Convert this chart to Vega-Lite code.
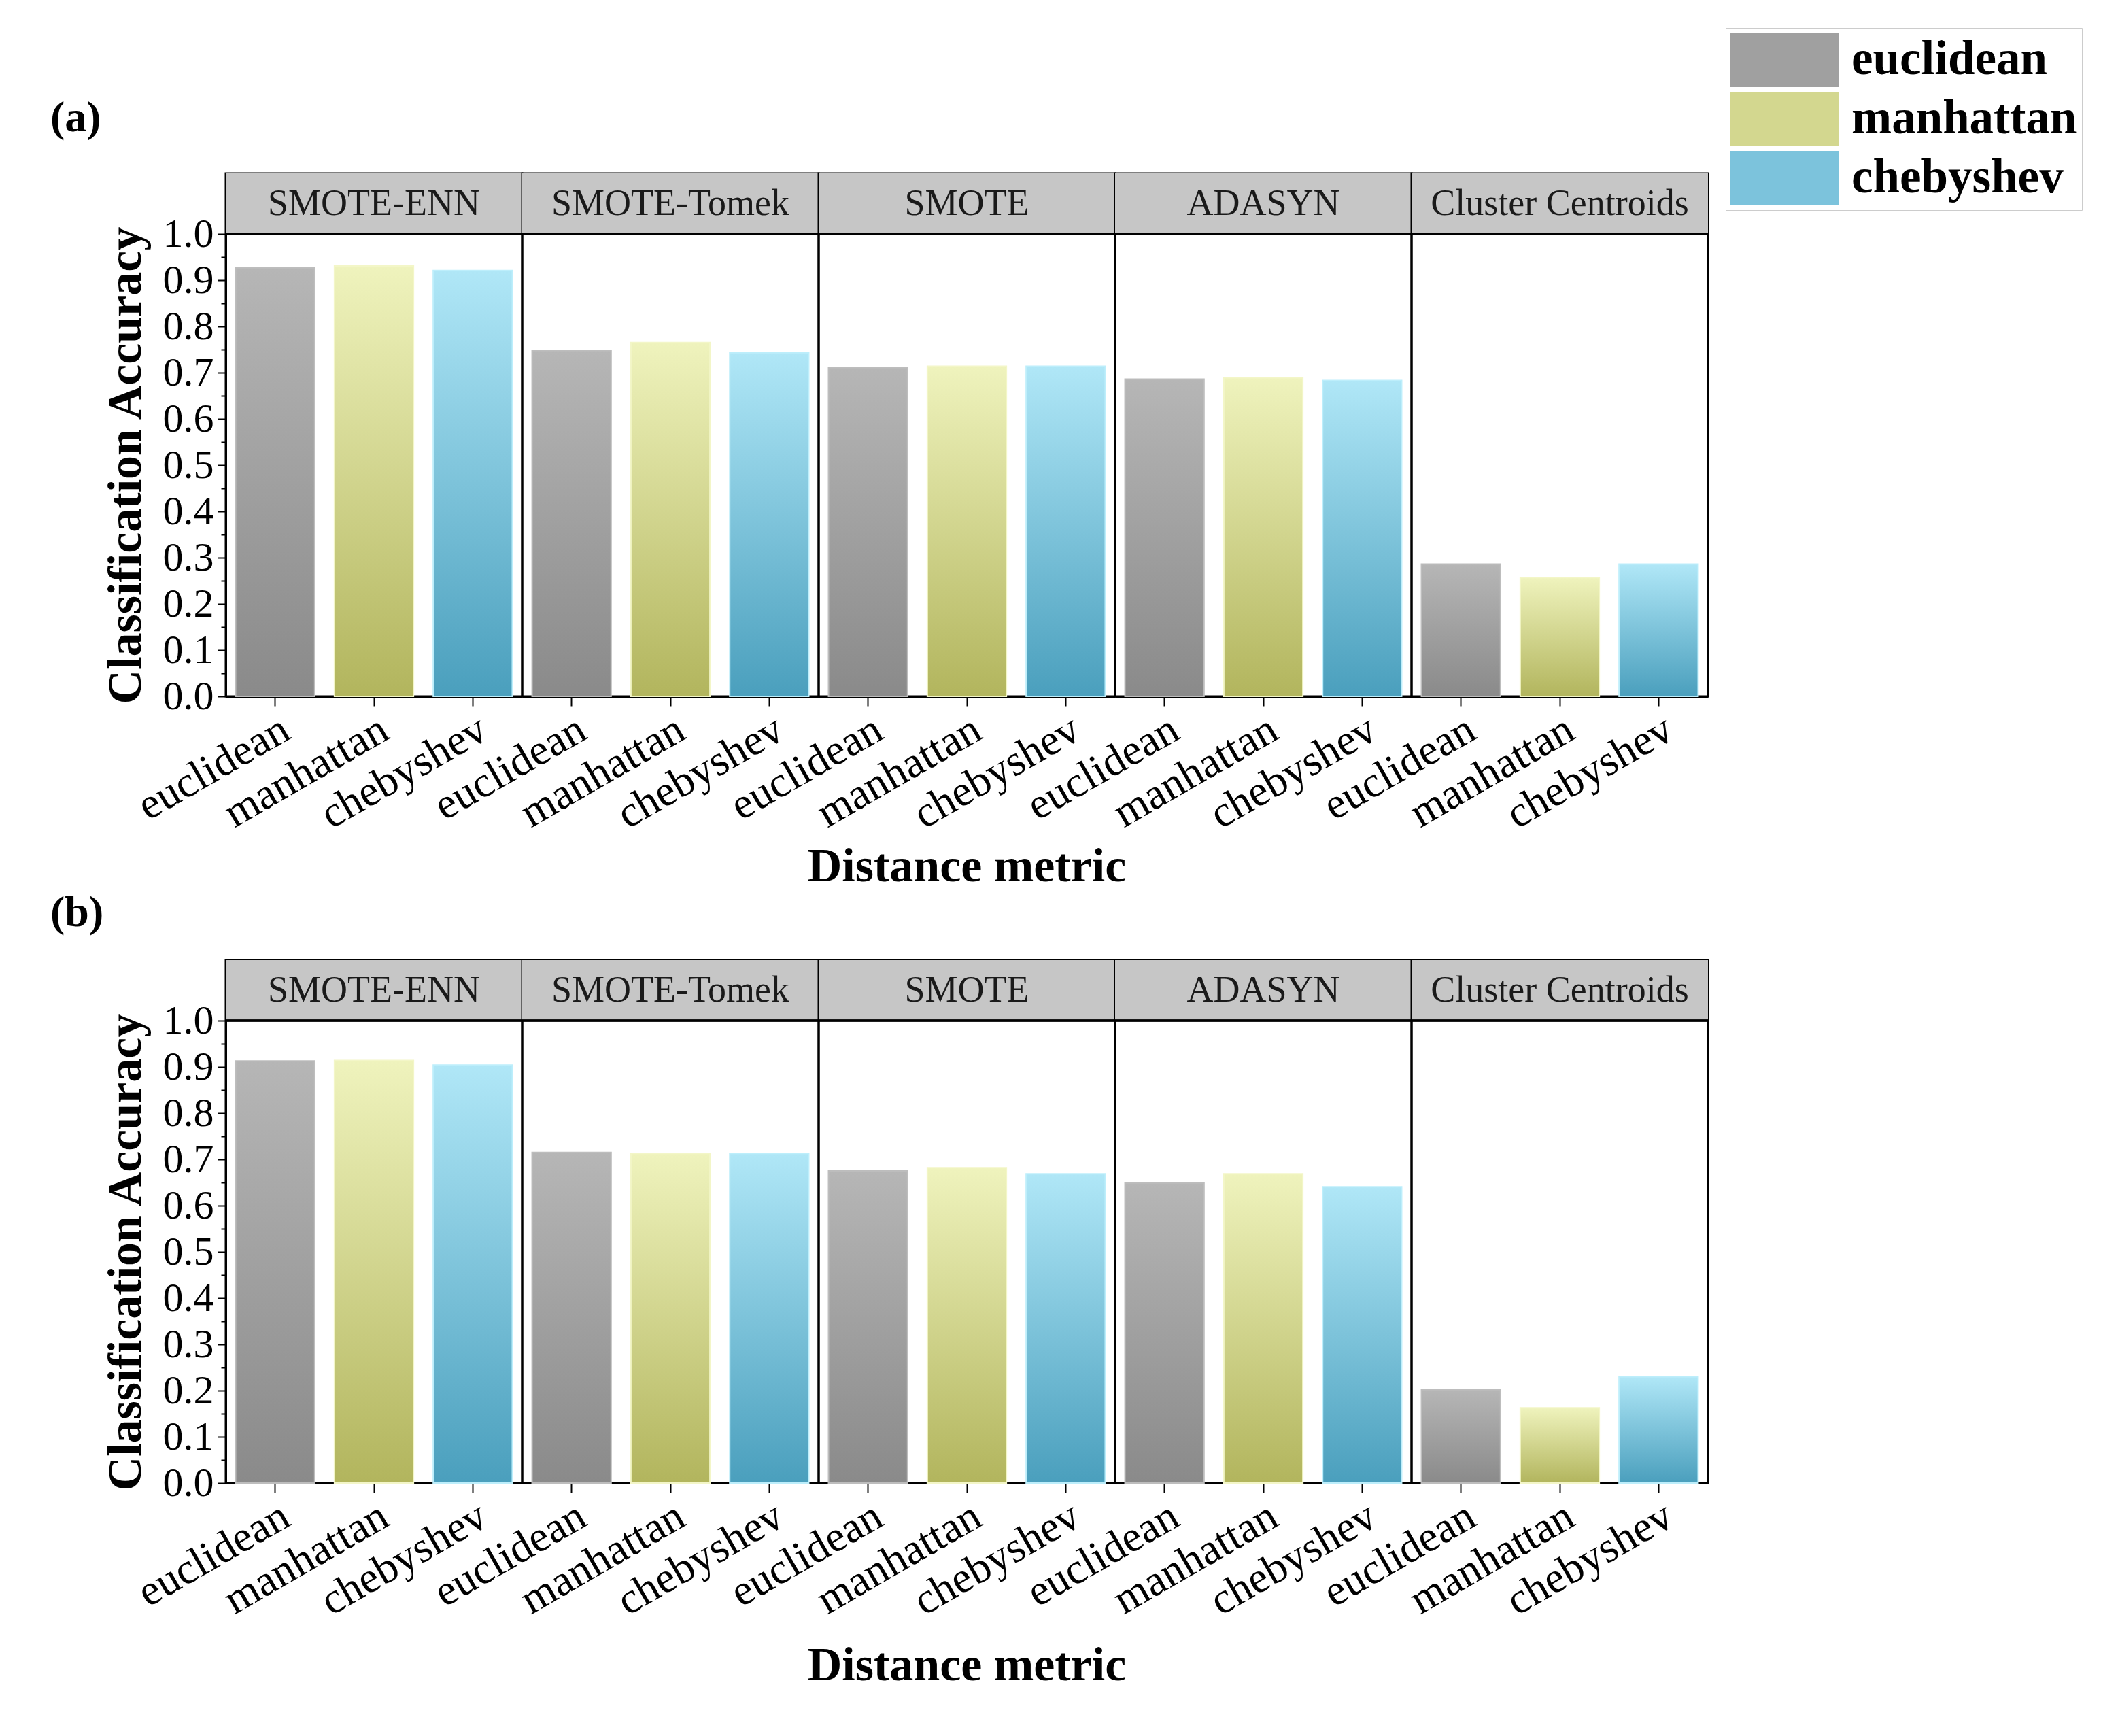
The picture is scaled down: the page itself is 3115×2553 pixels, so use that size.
{
  "$schema": "https://vega.github.io/schema/vega-lite/v6.json",
  "background": "white",
  "padding": {"left": 74, "top": 40, "right": 10, "bottom": 10},
  "spacing": 0,
  "datasets": {
    "acc": [
      {"panel": "a", "method": "SMOTE-ENN", "metric": "euclidean", "acc": 0.927},
      {"panel": "a", "method": "SMOTE-ENN", "metric": "manhattan", "acc": 0.931},
      {"panel": "a", "method": "SMOTE-ENN", "metric": "chebyshev", "acc": 0.921},
      {"panel": "a", "method": "SMOTE-Tomek", "metric": "euclidean", "acc": 0.748},
      {"panel": "a", "method": "SMOTE-Tomek", "metric": "manhattan", "acc": 0.765},
      {"panel": "a", "method": "SMOTE-Tomek", "metric": "chebyshev", "acc": 0.743},
      {"panel": "a", "method": "SMOTE", "metric": "euclidean", "acc": 0.711},
      {"panel": "a", "method": "SMOTE", "metric": "manhattan", "acc": 0.714},
      {"panel": "a", "method": "SMOTE", "metric": "chebyshev", "acc": 0.714},
      {"panel": "a", "method": "ADASYN", "metric": "euclidean", "acc": 0.686},
      {"panel": "a", "method": "ADASYN", "metric": "manhattan", "acc": 0.689},
      {"panel": "a", "method": "ADASYN", "metric": "chebyshev", "acc": 0.683},
      {"panel": "a", "method": "Cluster Centroids", "metric": "euclidean", "acc": 0.286},
      {"panel": "a", "method": "Cluster Centroids", "metric": "manhattan", "acc": 0.257},
      {"panel": "a", "method": "Cluster Centroids", "metric": "chebyshev", "acc": 0.286},
      {"panel": "b", "method": "SMOTE-ENN", "metric": "euclidean", "acc": 0.913},
      {"panel": "b", "method": "SMOTE-ENN", "metric": "manhattan", "acc": 0.914},
      {"panel": "b", "method": "SMOTE-ENN", "metric": "chebyshev", "acc": 0.904},
      {"panel": "b", "method": "SMOTE-Tomek", "metric": "euclidean", "acc": 0.715},
      {"panel": "b", "method": "SMOTE-Tomek", "metric": "manhattan", "acc": 0.713},
      {"panel": "b", "method": "SMOTE-Tomek", "metric": "chebyshev", "acc": 0.713},
      {"panel": "b", "method": "SMOTE", "metric": "euclidean", "acc": 0.675},
      {"panel": "b", "method": "SMOTE", "metric": "manhattan", "acc": 0.682},
      {"panel": "b", "method": "SMOTE", "metric": "chebyshev", "acc": 0.669},
      {"panel": "b", "method": "ADASYN", "metric": "euclidean", "acc": 0.649},
      {"panel": "b", "method": "ADASYN", "metric": "manhattan", "acc": 0.669},
      {"panel": "b", "method": "ADASYN", "metric": "chebyshev", "acc": 0.641},
      {"panel": "b", "method": "Cluster Centroids", "metric": "euclidean", "acc": 0.202},
      {"panel": "b", "method": "Cluster Centroids", "metric": "manhattan", "acc": 0.163},
      {"panel": "b", "method": "Cluster Centroids", "metric": "chebyshev", "acc": 0.230}
    ]
  },
  "config": {
    "font": "Liberation Serif",
    "view": {"stroke": "black", "strokeWidth": 3},
    "axis": {"labelFont": "Liberation Serif", "titleFont": "Liberation Serif", "labelColor": "black", "titleColor": "black", "domainColor": "black", "domainWidth": 3, "tickColor": "black", "tickWidth": 2, "grid": false},
    "header": {"titleFont": "Liberation Serif", "titleFontSize": 70, "titleFontWeight": "bold", "titleColor": "black"},
    "title": {"font": "Liberation Serif", "fontSize": 64, "fontWeight": "bold", "color": "black", "anchor": "start"}
  },
  "resolve": {"scale": {"color": "shared"}},
  "vconcat": [
    {
      "title": {"text": "(a)", "offset": 48, "dx": -76},
      "data": {"name": "acc"},
      "transform": [{"filter": "datum.panel === 'a'"}],
      "facet": {"column": {"field": "method", "type": "nominal", "sort": ["SMOTE-ENN", "SMOTE-Tomek", "SMOTE", "ADASYN", "Cluster Centroids"], "title": "Distance metric", "header": {"labels": false, "labelPadding": 0, "titleOrient": "bottom", "titlePadding": 0}}},
      "spacing": 0,
      "bounds": "flush",
      "spec": {
        "width": 436, "height": 769,
        "encoding": {
          "y": {"field": "acc", "type": "quantitative", "scale": {"domain": [0, 1.131], "nice": false}, "title": "Classification Accuracy",
            "axis": {"values": [0, 0.05, 0.1, 0.15, 0.2, 0.25, 0.3, 0.35, 0.4, 0.45, 0.5, 0.55, 0.6, 0.65, 0.7, 0.75, 0.8, 0.85, 0.9, 0.95, 1.0],
              "labelExpr": "round(datum.value*100) % 10 === 0 ? format(datum.value, '.1f') : ''",
              "tickSize": {"condition": {"test": "round(datum.value*100) % 10 === 0", "value": 12}, "value": 7},
              "labelFontSize": 60, "labelPadding": 6, "titleFontSize": 70, "titleFontWeight": "bold", "titlePadding": 18, "titleY": 429}}
        },
        "layer": [
          {"mark": {"type": "rect", "fill": "#c6c6c6"},
           "encoding": {"y": {"datum": 1, "type": "quantitative"}, "y2": {"datum": 1.131}}},
          {"mark": {"type": "rule", "color": "black", "strokeWidth": 3},
           "encoding": {"y": {"datum": 1, "type": "quantitative"}}},
          {"transform": [{"filter": "datum.metric === 'euclidean'"}],
           "mark": {"type": "text", "font": "Liberation Serif", "fontSize": 54, "fill": "#1a1a1a"},
           "encoding": {"y": {"datum": 1.0655, "type": "quantitative"}, "text": {"field": "method", "type": "nominal"}}},
          {"mark": {"type": "bar"},
           "encoding": {
             "x": {"field": "metric", "type": "nominal", "sort": ["euclidean", "manhattan", "chebyshev"], "scale": {"paddingInner": 0.2, "paddingOuter": 0.1}, "title": null,
               "axis": {"labelAngle": -30, "labelFontSize": 64, "labelLimit": 0, "tickSize": 14, "labelPadding": 2}},
             "color": {"field": "metric", "type": "nominal", "sort": ["euclidean", "manhattan", "chebyshev"],
               "scale": {"domain": ["euclidean", "manhattan", "chebyshev"], "range": ["#a0a0a0", "#d3d78f", "#7cc3dc"]},
               "legend": {"orient": "none", "legendX": 2206, "legendY": -214, "title": null, "labelFont": "Liberation Serif", "labelFontSize": 71, "labelFontWeight": "bold", "labelColor": "black", "labelLimit": 0, "symbolType": "M-2,-1H2V1H-2Z", "symbolSize": 6400, "symbolOffset": 40, "symbolStrokeWidth": 0, "symbolOpacity": 1, "rowPadding": 7, "labelOffset": 58, "strokeColor": "#cccccc", "padding": 7}}
           }},
          {"mark": {"type": "bar", "strokeWidth": 2},
           "encoding": {
             "x": {"field": "metric", "type": "nominal", "sort": ["euclidean", "manhattan", "chebyshev"], "title": null},
             "fill": {"condition": [
                 {"test": "datum.metric === 'euclidean'", "value": {"gradient": "linear", "x1": 0, "y1": 0, "x2": 0, "y2": 1, "stops": [{"offset": 0, "color": "#b6b6b6"}, {"offset": 1, "color": "#8a8a8a"}]}},
                 {"test": "datum.metric === 'manhattan'", "value": {"gradient": "linear", "x1": 0, "y1": 0, "x2": 0, "y2": 1, "stops": [{"offset": 0, "color": "#eff3bd"}, {"offset": 1, "color": "#b2b55d"}]}}
               ],
               "value": {"gradient": "linear", "x1": 0, "y1": 0, "x2": 0, "y2": 1, "stops": [{"offset": 0, "color": "#b0e7f7"}, {"offset": 1, "color": "#4a9fbd"}]}},
             "stroke": {"condition": [
                 {"test": "datum.metric === 'euclidean'", "value": "#bdbdbd"},
                 {"test": "datum.metric === 'manhattan'", "value": "#f3f6c8"}
               ], "value": "#bdeefb"}
           }}
        ]
      }
    },
    {
      "title": {"text": "(b)", "offset": 36, "dx": -76},
      "data": {"name": "acc"},
      "transform": [{"filter": "datum.panel === 'b'"}],
      "facet": {"column": {"field": "method", "type": "nominal", "sort": ["SMOTE-ENN", "SMOTE-Tomek", "SMOTE", "ADASYN", "Cluster Centroids"], "title": "Distance metric", "header": {"labels": false, "labelPadding": 0, "titleOrient": "bottom", "titlePadding": 18}}},
      "spacing": 0,
      "bounds": "flush",
      "spec": {
        "width": 436, "height": 769,
        "encoding": {
          "y": {"field": "acc", "type": "quantitative", "scale": {"domain": [0, 1.131], "nice": false}, "title": "Classification Accuracy",
            "axis": {"values": [0, 0.05, 0.1, 0.15, 0.2, 0.25, 0.3, 0.35, 0.4, 0.45, 0.5, 0.55, 0.6, 0.65, 0.7, 0.75, 0.8, 0.85, 0.9, 0.95, 1.0],
              "labelExpr": "round(datum.value*100) % 10 === 0 ? format(datum.value, '.1f') : ''",
              "tickSize": {"condition": {"test": "round(datum.value*100) % 10 === 0", "value": 12}, "value": 7},
              "labelFontSize": 60, "labelPadding": 6, "titleFontSize": 70, "titleFontWeight": "bold", "titlePadding": 18, "titleY": 429}}
        },
        "layer": [
          {"mark": {"type": "rect", "fill": "#c6c6c6"},
           "encoding": {"y": {"datum": 1, "type": "quantitative"}, "y2": {"datum": 1.131}}},
          {"mark": {"type": "rule", "color": "black", "strokeWidth": 3},
           "encoding": {"y": {"datum": 1, "type": "quantitative"}}},
          {"transform": [{"filter": "datum.metric === 'euclidean'"}],
           "mark": {"type": "text", "font": "Liberation Serif", "fontSize": 54, "fill": "#1a1a1a"},
           "encoding": {"y": {"datum": 1.0655, "type": "quantitative"}, "text": {"field": "method", "type": "nominal"}}},
          {"mark": {"type": "bar"},
           "encoding": {
             "x": {"field": "metric", "type": "nominal", "sort": ["euclidean", "manhattan", "chebyshev"], "scale": {"paddingInner": 0.2, "paddingOuter": 0.1}, "title": null,
               "axis": {"labelAngle": -30, "labelFontSize": 64, "labelLimit": 0, "tickSize": 14, "labelPadding": 2}},
             "color": {"field": "metric", "type": "nominal", "sort": ["euclidean", "manhattan", "chebyshev"]}
           }},
          {"mark": {"type": "bar", "strokeWidth": 2},
           "encoding": {
             "x": {"field": "metric", "type": "nominal", "sort": ["euclidean", "manhattan", "chebyshev"], "title": null},
             "fill": {"condition": [
                 {"test": "datum.metric === 'euclidean'", "value": {"gradient": "linear", "x1": 0, "y1": 0, "x2": 0, "y2": 1, "stops": [{"offset": 0, "color": "#b6b6b6"}, {"offset": 1, "color": "#8a8a8a"}]}},
                 {"test": "datum.metric === 'manhattan'", "value": {"gradient": "linear", "x1": 0, "y1": 0, "x2": 0, "y2": 1, "stops": [{"offset": 0, "color": "#eff3bd"}, {"offset": 1, "color": "#b2b55d"}]}}
               ],
               "value": {"gradient": "linear", "x1": 0, "y1": 0, "x2": 0, "y2": 1, "stops": [{"offset": 0, "color": "#b0e7f7"}, {"offset": 1, "color": "#4a9fbd"}]}},
             "stroke": {"condition": [
                 {"test": "datum.metric === 'euclidean'", "value": "#bdbdbd"},
                 {"test": "datum.metric === 'manhattan'", "value": "#f3f6c8"}
               ], "value": "#bdeefb"}
           }}
        ]
      }
    }
  ]
}
